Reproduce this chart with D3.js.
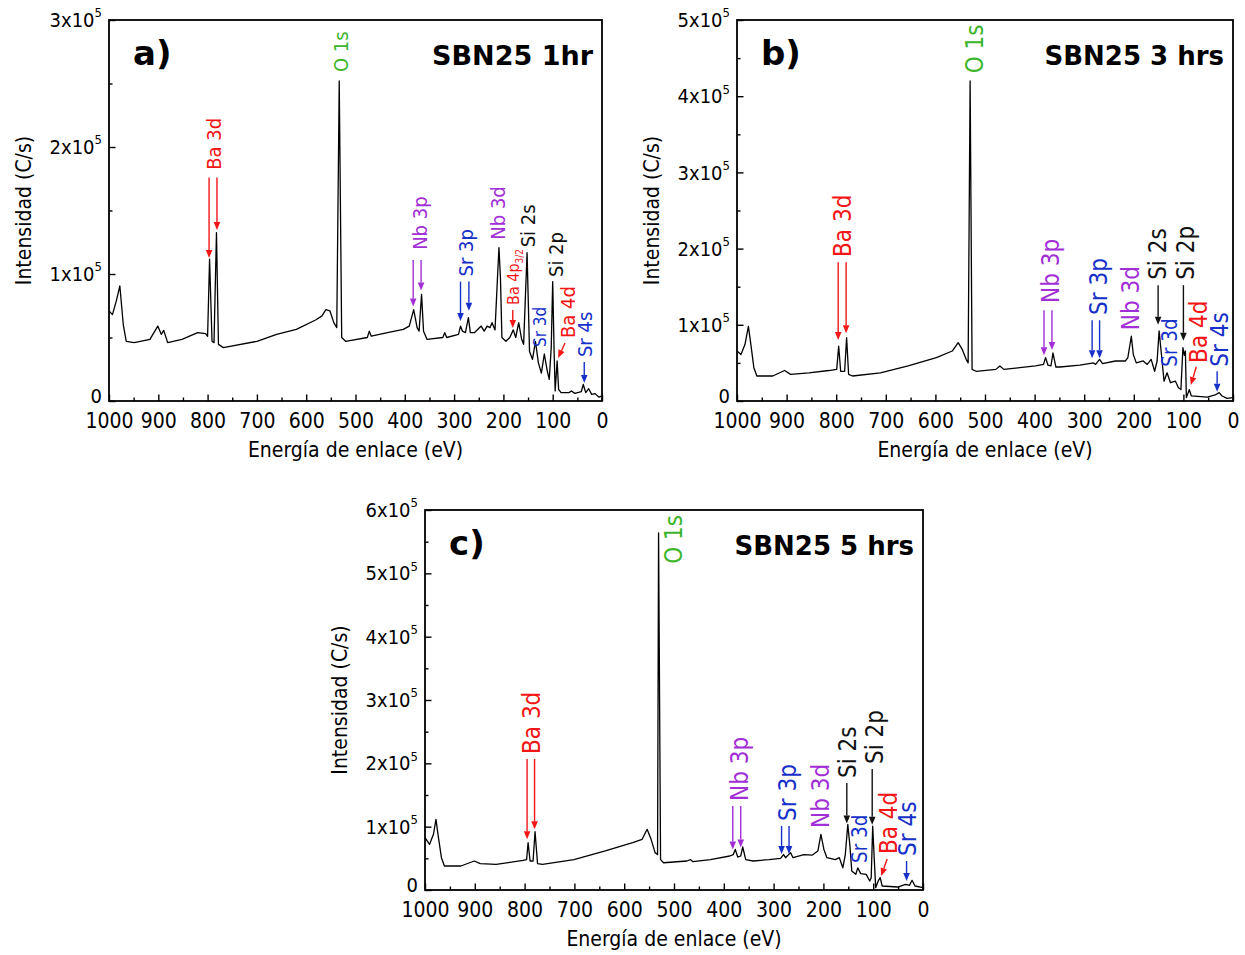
<!DOCTYPE html>
<html>
<head>
<meta charset="utf-8">
<script src="https://cdn.jsdelivr.net/npm/d3@7"></script>
<style>
  body { margin: 0; background: #fff; }
  #chart text { font-family: "DejaVu Sans Condensed", "DejaVu Sans", sans-serif; font-stretch: condensed; }
  #chart text.bold { font-family: "DejaVu Sans", sans-serif; font-stretch: normal; font-weight: bold; }
</style>
</head>
<body>
<svg id="chart" width="1245" height="955"></svg>
<script>
// XPS survey spectra of SBN25 after 1, 3 and 5 hrs
// counts are in kC/s (x10^3), energies in eV

var energyTicks = [1000, 900, 800, 700, 600, 500, 400, 300, 200, 100, 0];
var panelTags = ["a)", "b)", "c)"];
var panelTitles = ["SBN25 1hr", "SBN25 3 hrs", "SBN25 5 hrs"];
var countMax = [300, 500, 600];

var energyA = [1000, 993, 985, 978, 971, 965, 949, 917, 901, 894, 889, 881, 852, 820, 804, 800, 796, 791, 787, 782,
  778, 768, 700, 660, 620, 580, 568, 560, 552, 544, 538, 533, 528, 520, 476, 472, 468, 435, 403, 391,
  382, 375, 371, 366, 362, 355, 323, 319, 315, 291, 287, 283, 277, 271, 267, 259, 245, 239, 233, 227,
  223, 217, 212, 209, 206, 203, 195, 187, 180, 175, 169, 163, 159, 152, 147, 141, 135, 129, 123, 117,
  111, 107, 103, 100, 97, 95, 91, 88, 83, 67, 62, 55, 42, 38, 33, 27, 21, 14, 6, 0];
var countsA = [71, 68, 79, 90.6, 60, 47, 46, 48.5, 59, 52.5, 55.6, 46, 48.6, 53.8, 53, 51, 111.6, 47, 46, 132.6,
  44.6, 42, 47, 52.5, 56.4, 64, 67, 72, 71, 61.7, 57.8, 252, 50, 47, 50, 55, 51, 53.8, 56.4, 59,
  72, 57.8, 55, 84, 55, 48.6, 50, 53.8, 50, 52.5, 59, 55, 53.8, 65.6, 53.8, 53.8, 59, 55, 59, 57.8,
  61.7, 56, 97, 120.8, 97, 50, 47, 50, 56, 50, 61.7, 48.6, 44.6, 116.8, 39, 32.8, 47, 30, 22, 37,
  23.6, 17, 42, 94, 36.7, 7.9, 31.5, 9.2, 6.6, 6.6, 7.9, 6, 7.3, 13, 6.6, 9.7, 5.2, 5.8, 3, 4];

var energyB = [1000, 992, 984, 977, 972, 966, 960, 928, 904, 892, 855, 815, 799, 795, 791, 783, 779, 775, 767, 711,
  655, 598, 566, 554, 546, 538, 534, 530, 526, 518, 478, 470, 462, 430, 398, 382, 378, 373, 367, 363,
  357, 349, 309, 281, 277, 269, 263, 237, 217, 212, 205, 201, 195, 181, 173, 165, 158, 153, 149, 145,
  139, 133, 126, 116, 110, 105, 101, 98, 96, 94, 88, 84, 52, 36, 28, 22, 12, 0];
var countsB = [65.6, 61, 74, 98, 74, 43.7, 32.8, 32.8, 40, 35, 37, 40, 41.5, 72, 39, 39, 83, 35, 32.8, 37,
  46, 57, 65.6, 76.5, 67.8, 54.7, 50, 420, 41.5, 39, 41.5, 46, 41.5, 43.7, 46, 48, 57, 47, 46, 63,
  44.6, 44.6, 47, 50, 48, 54.7, 49, 52.5, 52.5, 57, 85, 61, 50, 52.5, 48, 54.7, 39, 52.5, 92, 65.6,
  26, 37, 24, 26, 17.5, 15, 70, 60, 65.6, 4.4, 15, 6.6, 5.2, 7.9, 11, 6.6, 3.5, 4.4];

var energyC = [1000, 991, 983, 978, 973, 967, 961, 928, 901, 889, 857, 803, 796, 793, 789, 783, 779, 774, 764, 701,
  638, 583, 564, 554, 546, 538, 533, 531, 527, 521, 474, 467, 462, 427, 388, 381, 377, 372, 366, 362,
  356, 341, 309, 286, 280, 276, 266, 261, 239, 223, 211, 205, 199, 193, 176, 168, 161, 156, 151, 147,
  143, 135, 131, 125, 114, 107, 104, 101, 98, 95, 90, 86, 82, 51, 35, 27, 22, 16, 0];
var countsC = [82.6, 72, 88, 111.6, 82.6, 51, 37.9, 37.9, 45.8, 41.6, 40.5, 46.8, 48, 74.7, 45.8, 45.8, 92, 41.6, 40.5, 48,
  61.6, 74.7, 80, 95.8, 80, 59, 56, 564, 48, 43, 45.8, 48, 44.7, 48, 53.7, 56, 64, 52, 53.7, 67.9,
  48, 45.8, 48, 50, 56, 51, 59, 51, 56, 55, 61.6, 87.9, 64, 51, 48, 51, 35, 56, 103.7, 72,
  30, 24.7, 35, 25.8, 24.7, 14.2, 19.5, 101, 51, 3.7, 14.2, 19.5, 6.3, 4.7, 8.9, 7.4, 15.3, 6.3, 3.7];

// peak labels: be = label centre, base = count where the text starts; arrows in data units
var peaksA = [
  {name: "O 1s", be: 530, base: 259, arrows: []},
  {name: "Ba 3d", be: 788, base: 182, arrows: [{be: 797, from: 176, to: 112.6}, {be: 781, from: 176, to: 134.6}]},
  {name: "Nb 3p", be: 370, base: 119, arrows: [{be: 383, from: 111, to: 74.5}, {be: 367, from: 111, to: 87}]},
  {name: "Sr 3p", be: 276, base: 98, arrows: [{be: 287, from: 94, to: 63}, {be: 270, from: 94, to: 71}]},
  {name: "Nb 3d", be: 211, base: 127, arrows: []},
  {name: "Ba 4p", sub: "3/2", be: 181, base: 75.6, arrows: [{be: 181, from: 71.6, to: 57.5}]},
  {name: "Si 2s", be: 150, base: 121, arrows: []},
  {name: "Sr 3d", be: 126, base: 42.5, arrows: []},
  {name: "Si 2p", be: 93, base: 97.6, arrows: []},
  {name: "Ba 4d", be: 69, base: 49.6, arrows: [{be: 75, from: 45.7, be2: 89, to: 33.9}]},
  {name: "Sr 4s", be: 34.5, base: 34.6, arrows: [{be: 36, from: 30.7, to: 14.2}]}
];
var peaksB = [
  {name: "O 1s", be: 522, base: 430, arrows: []},
  {name: "Ba 3d", be: 788, base: 189, arrows: [{be: 796, from: 182, to: 80}, {be: 780, from: 182, to: 89}]},
  {name: "Nb 3p", be: 369, base: 128.6, arrows: [{be: 381, from: 119, to: 60}, {be: 365, from: 119, to: 67}]},
  {name: "Sr 3p", be: 272, base: 112.8, arrows: [{be: 284, from: 106, to: 56}, {be: 269, from: 106, to: 56}]},
  {name: "Nb 3d", be: 206, base: 93, arrows: []},
  {name: "Si 2s", be: 153, base: 159, arrows: [{be: 151, from: 152, to: 100}]},
  {name: "Si 2p", be: 96, base: 159, arrows: [{be: 100, from: 152, to: 79}]},
  {name: "Sr 3d", be: 128, base: 45, arrows: []},
  {name: "Ba 4d", be: 69, base: 50, arrows: [{be: 74, from: 45, be2: 85, to: 21}]},
  {name: "Sr 4s", be: 28, base: 45, arrows: [{be: 32, from: 39, to: 12}]}
];
var peaksC = [
  {name: "O 1s", be: 502, base: 515, arrows: []},
  {name: "Ba 3d", be: 787, base: 214.7, arrows: [{be: 795, from: 206.8, to: 80}, {be: 780, from: 206.8, to: 96}]},
  {name: "Nb 3p", be: 369, base: 140.5, arrows: [{be: 382, from: 132.6, to: 64}, {be: 366, from: 132.6, to: 67}]},
  {name: "Sr 3p", be: 273, base: 109, arrows: [{be: 284, from: 101, to: 57}, {be: 269, from: 101, to: 57}]},
  {name: "Nb 3d", be: 206, base: 97.9, arrows: []},
  {name: "Si 2s", be: 151, base: 176.8, arrows: [{be: 153, from: 169, to: 105}]},
  {name: "Si 2p", be: 98, base: 199, arrows: [{be: 102, from: 191, to: 103}]},
  {name: "Sr 3d", be: 128, base: 42.6, arrows: []},
  {name: "Ba 4d", be: 70, base: 56.8, arrows: [{be: 72, from: 49, be2: 84, to: 22}]},
  {name: "Sr 4s", be: 32, base: 53.7, arrows: [{be: 33, from: 45.8, to: 14.2}]}
];

var elementColour = {O: "#3cb52a", Ba: "#f21616", Nb: "#a22ed6", Sr: "#1630c8", Si: "#111111"};
var smallLabels = {"Sr 3d": 0.85, "Ba 4p": 0.8};

var svg = d3.select("#chart");

var panels = [
  {energy: energyA, counts: countsA, peaks: peaksA, box: {left: 109, top: 20, width: 493, height: 381}, labelSize: 20, titleSize: 27},
  {energy: energyB, counts: countsB, peaks: peaksB, box: {left: 737, top: 20, width: 496, height: 381}, labelSize: 24, titleSize: 26},
  {energy: energyC, counts: countsC, peaks: peaksC, box: {left: 425, top: 510, width: 498, height: 380}, labelSize: 24, titleSize: 26}
];

panels.forEach(function(p, i) {
  p.tag = panelTags[i];
  p.title = panelTitles[i];
  p.yMax = countMax[i];
  drawPanel(p);
});

function drawPanel(p) {
  var b = p.box;
  var g = svg.append("g").attr("transform", "translate(" + b.left + "," + b.top + ")");

  var x = d3.scaleLinear().domain([1000, 0]).range([0, b.width]);
  var y = d3.scaleLinear().domain([0, p.yMax]).range([b.height, 0]);

  //ticks point into the frame
  var minorX = d3.range(50, 1000, 100);
  var majorY = d3.range(0, p.yMax + 1, 100);
  var minorY = d3.range(50, p.yMax, 100);

  var xMinor = g.append("g").attr("transform", "translate(0," + b.height + ")")
    .call(d3.axisBottom(x).tickValues(minorX).tickSize(-3.5).tickFormat(""));
  var xAxis = g.append("g").attr("transform", "translate(0," + b.height + ")")
    .call(d3.axisBottom(x).tickValues(energyTicks).tickSize(-6.5).tickPadding(12).tickFormat(d3.format("d")));
  var yMinor = g.append("g")
    .call(d3.axisLeft(y).tickValues(minorY).tickSize(-3.5).tickFormat(""));
  var yAxis = g.append("g")
    .call(d3.axisLeft(y).tickValues(majorY).tickSize(-6.5).tickPadding(7).tickFormat(""));

  [xMinor, xAxis, yMinor, yAxis].forEach(function(a) {
    a.select(".domain").remove();
    a.selectAll("line").attr("stroke", "#000").attr("stroke-width", 1.4);
  });
  xAxis.selectAll("text").attr("font-size", 21).attr("fill", "#000");

  // y labels like 3x10^5
  yAxis.selectAll(".tick text").each(function(d) {
    var t = d3.select(this).attr("font-size", 20).attr("fill", "#000").attr("dy", "0.33em");
    t.text(null);
    if (d === 0) {
      t.attr("dy", "0.08em").text("0");
    } else {
      t.append("tspan").text((d / 100) + "x10");
      t.append("tspan").attr("dy", "-0.75em").attr("font-size", 13).text("5");
    }
  });

  // spectrum
  var valueline = d3.line()
    .x(function(d) { return x(d[0]); })
    .y(function(d) { return y(d[1]); });
  g.append("path")
    .datum(d3.zip(p.energy, p.counts))
    .attr("fill", "none")
    .attr("stroke", "#000")
    .attr("stroke-width", 1.3)
    .attr("stroke-linejoin", "round")
    .attr("d", valueline);

  // frame
  g.append("rect")
    .attr("width", b.width)
    .attr("height", b.height)
    .attr("fill", "none")
    .attr("stroke", "#000")
    .attr("stroke-width", 1.8);

  // peak labels and arrows
  p.peaks.forEach(function(pk) {
    var colour = elementColour[pk.name.split(" ")[0]];
    var size = p.labelSize * (smallLabels[pk.name] || 1);
    var t = g.append("text")
      .attr("transform", "translate(" + x(pk.be) + "," + y(pk.base) + ") rotate(-90)")
      .attr("dy", "0.36em")
      .attr("fill", colour)
      .attr("font-size", size);
    t.append("tspan").text(pk.name);
    if (pk.sub) {
      t.append("tspan").attr("dy", "0.45em").attr("font-size", size * 0.62).text(pk.sub);
    }
    pk.arrows.forEach(function(a) {
      drawArrow(g, x(a.be), y(a.from), x(a.be2 === undefined ? a.be : a.be2), y(a.to), colour);
    });
  });

  // panel tag and sample name
  g.append("text").attr("class", "bold")
    .attr("x", 24).attr("y", 45)
    .attr("font-size", 34)
    .text(p.tag);
  g.append("text").attr("class", "bold")
    .attr("x", b.width - 9).attr("y", 45)
    .attr("text-anchor", "end")
    .attr("font-size", p.titleSize)
    .text(p.title);

  // axis titles
  g.append("text")
    .attr("x", b.width / 2).attr("y", b.height + 56)
    .attr("text-anchor", "middle")
    .attr("font-size", 21)
    .text("Energía de enlace (eV)");
  g.append("text")
    .attr("transform", "translate(-86," + (b.height / 2) + ") rotate(-90)")
    .attr("dy", "0.36em")
    .attr("text-anchor", "middle")
    .attr("font-size", 21)
    .text("Intensidad (C/s)");
}

function drawArrow(g, x1, y1, x2, y2, colour) {
  var ang = Math.atan2(y2 - y1, x2 - x1);
  var len = 8, half = 3.3;
  var bx = x2 - len * Math.cos(ang), by = y2 - len * Math.sin(ang);
  var nx = -Math.sin(ang) * half, ny = Math.cos(ang) * half;
  g.append("line")
    .attr("x1", x1).attr("y1", y1).attr("x2", bx).attr("y2", by)
    .attr("stroke", colour).attr("stroke-width", 1.4);
  g.append("path")
    .attr("d", "M" + x2 + "," + y2 + "L" + (bx + nx) + "," + (by + ny) + "L" + (bx - nx) + "," + (by - ny) + "Z")
    .attr("fill", colour);
}
</script>
</body>
</html>
